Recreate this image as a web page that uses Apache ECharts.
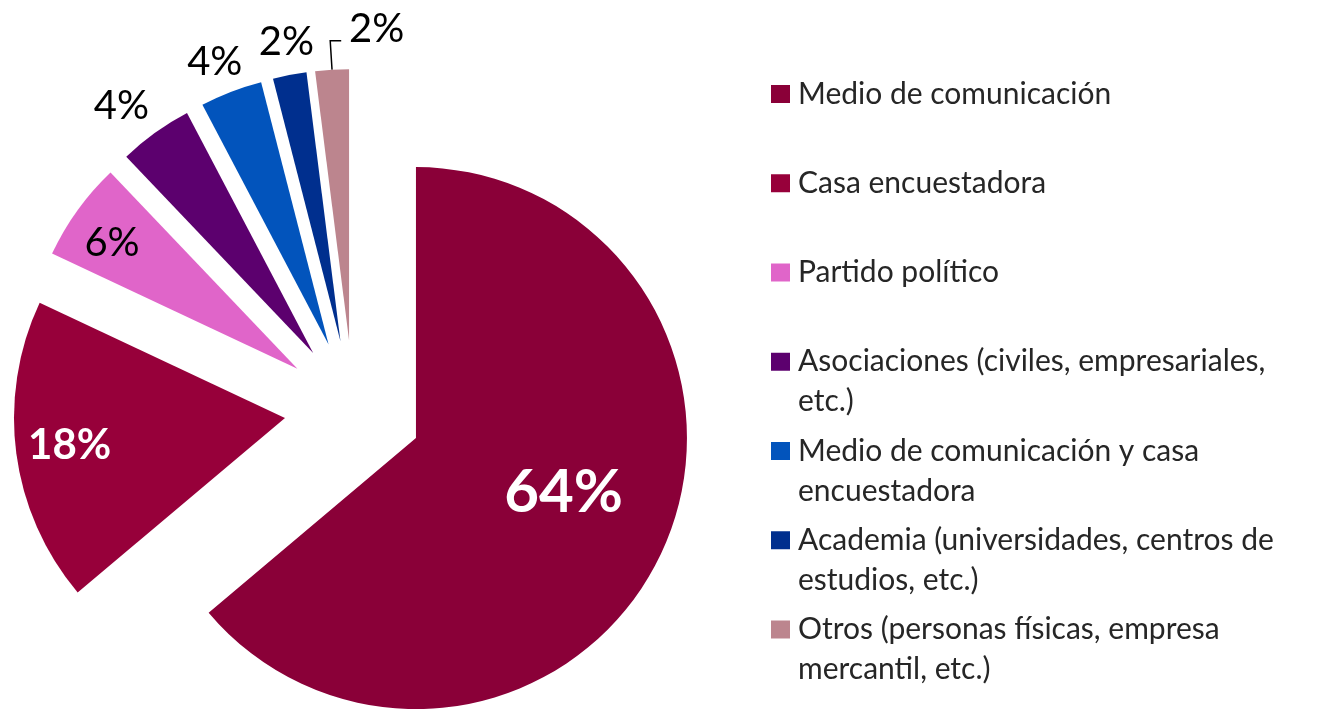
<!DOCTYPE html>
<html>
<head>
<meta charset="utf-8">
<script src="https://cdn.jsdelivr.net/npm/echarts@6/dist/echarts.min.js"></script>
<style>
html,body{margin:0;padding:0;background:#ffffff;}
#chart{width:1343px;height:709px;}
</style>
</head>
<body>
<div id="chart"></div>
<script>
// ---- data ----
const categories = [
  'Medio de comunicación',
  'Casa encuestadora',
  'Partido político',
  'Asociaciones (civiles, empresariales, etc.)',
  'Medio de comunicación y casa encuestadora',
  'Academia (universidades, centros de estudios, etc.)',
  'Otros (personas físicas, empresa mercantil, etc.)'
];
const legendText = [
  'Medio de comunicación',
  'Casa encuestadora',
  'Partido político',
  'Asociaciones (civiles, empresariales,\netc.)',
  'Medio de comunicación y casa\nencuestadora',
  'Academia (universidades, centros de\nestudios, etc.)',
  'Otros (personas físicas, empresa\nmercantil, etc.)'
];
const values = [63.8, 18.1, 5.9, 4.4, 3.7, 2.0, 2.0];

// ---- styles ----
const colors = ['#8A0038', '#97003A', '#E065C9', '#5C006E', '#0254BC', '#002F8E', '#BC858E'];
const FONT = 'Lato';
const labelStyles = [
  {color: '#ffffff', fontSize: 60, fontWeight: 'bold'},
  {color: '#ffffff', fontSize: 42, fontWeight: 'bold'},
  {color: '#000000', fontSize: 40, fontWeight: 'normal'},
  {color: '#000000', fontSize: 40, fontWeight: 'normal'},
  {color: '#000000', fontSize: 40, fontWeight: 'normal'},
  {color: '#000000', fontSize: 40, fontWeight: 'normal'},
  {color: '#000000', fontSize: 40, fontWeight: 'normal'}
];
const labelShift = [[22, -4], [-78, 9], [-73, -45], [-111, -134], [-64, -153], [-28, -163], [68, -12]];
const legendCenterTop = 94, legendStep = 89.25;

const chart = echarts.init(document.getElementById('chart'), null, {renderer: 'canvas'});

const data = values.map((v, i) => {
  const outside = i === values.length - 1;
  return {
    name: categories[i],
    value: v,
    selected: true,
    itemStyle: {color: colors[i]},
    label: Object.assign({
      position: outside ? 'outside' : 'inside',
      fontFamily: FONT
    }, labelStyles[i]),
    labelLine: outside ? {
      show: true, length: 29, length2: -11, minTurnAngle: 5,
      lineStyle: {color: '#000000', width: 1.5}
    } : {show: false}
  };
});

const legends = categories.map((name, i) => {
  const multi = legendText[i].indexOf('\n') >= 0;
  const c = legendCenterTop + i * legendStep;
  return {
    orient: 'vertical',
    left: 771,
    top: c - (multi ? 60 : 20),
    padding: 0,
    itemWidth: 19,
    itemHeight: 18,
    icon: 'rect',
    selectedMode: false,
    data: [name],
    formatter: () => (multi ? '\n' : '') + legendText[i],
    textStyle: {fontFamily: FONT, fontSize: 30, lineHeight: 40, color: '#262626', padding: [0, 0, 0, 3]}
  };
});

chart.setOption({
  animation: false,
  backgroundColor: '#ffffff',
  legend: legends,
  series: [{
    type: 'pie',
    center: [353.4, 409],
    radius: 271,
    startAngle: 90,
    clockwise: true,
    selectedMode: 'multiple',
    selectedOffset: 69,
    avoidLabelOverlap: false,
    percentPrecision: 0,
    label: {formatter: '{d}%', fontFamily: FONT},
    labelLayout: p => ({dx: labelShift[p.dataIndex][0], dy: labelShift[p.dataIndex][1]}),
    emphasis: {disabled: true},
    select: {itemStyle: {borderWidth: 0}},
    data: data
  }]
});
</script>
</body>
</html>
